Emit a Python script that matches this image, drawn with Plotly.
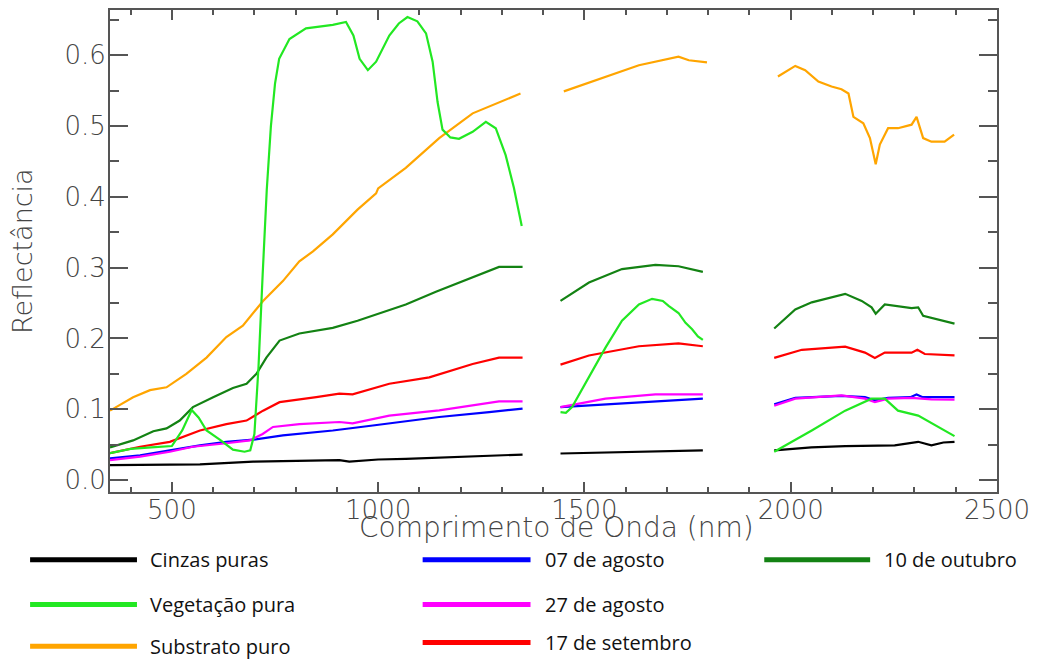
import plotly.graph_objects as go

# ---------------- data ----------------
cinzas_wl = [350, 450, 568, 697, 800, 890, 906, 930, 1000, 1067, 1150, 1250, 1350, None,
             1442, 1600, 1787, None,
             1960, 2050, 2132, 2252, 2309, 2341, 2370, 2397]
cinzas_r = [0.021, 0.021, 0.022, 0.026, 0.027, 0.028, 0.028, 0.026, 0.029, 0.030, 0.032, 0.034, 0.036, None,
            0.0375, 0.040, 0.042, None,
            0.042, 0.046, 0.048, 0.049, 0.054, 0.049, 0.053, 0.054]

veg_wl = [350, 400, 450, 500, 525, 548, 565, 584, 616, 648, 676, 690, 700, 710, 720, 730, 740, 750, 760,
          785, 825, 890, 922, 940, 955, 975, 995, 1027, 1050, 1071, 1095, 1116, 1132, 1144, 1156, 1175,
          1196, 1229, 1261, 1285, 1309, 1329, 1348, None,
          1442, 1455, 1470, 1519, 1551, 1591, 1632, 1664, 1690, 1704, 1728, 1745, 1761, 1775, 1787, None,
          1960, 2051, 2132, 2196, 2228, 2260, 2309, 2357, 2397]
veg_r = [0.038, 0.044, 0.046, 0.048, 0.070, 0.099, 0.088, 0.070, 0.057, 0.043, 0.040, 0.042, 0.065, 0.16,
         0.29, 0.41, 0.50, 0.56, 0.595,
         0.623, 0.638, 0.643, 0.647, 0.628, 0.595, 0.579, 0.591, 0.628, 0.645, 0.654, 0.648, 0.631, 0.591,
         0.534, 0.495, 0.484, 0.482, 0.492, 0.506, 0.497, 0.459, 0.413, 0.359, None,
         0.096, 0.095, 0.103, 0.155, 0.187, 0.225, 0.248, 0.256, 0.253, 0.246, 0.236, 0.222, 0.213, 0.203,
         0.198, None,
         0.040, 0.070, 0.098, 0.115, 0.115, 0.098, 0.091, 0.075, 0.062]

subs_wl = [350, 406, 447, 487, 535, 584, 632, 672, 721, 769, 809, 842, 890, 950, 995, 1000, 1067, 1148,
           1229, 1293, 1345, None,
           1450, 1551, 1632, 1728, 1753, 1797, None,
           1969, 2011, 2035, 2067, 2099, 2123, 2140, 2152, 2176, 2192, 2206, 2216, 2236, 2260, 2293, 2305,
           2321, 2341, 2373, 2396]
subs_r = [0.098, 0.117, 0.127, 0.131, 0.150, 0.173, 0.202, 0.218, 0.253, 0.281, 0.309, 0.323, 0.347,
          0.382, 0.405, 0.412, 0.441, 0.483, 0.518, 0.534, 0.546, None,
          0.549, 0.570, 0.586, 0.598, 0.593, 0.590, None,
          0.570, 0.585, 0.579, 0.563, 0.556, 0.552, 0.546, 0.513, 0.504, 0.483, 0.446, 0.474, 0.497,
          0.497, 0.502, 0.513, 0.483, 0.478, 0.478, 0.488]

ago07_wl = [350, 423, 495, 568, 632, 697, 769, 890, 987, 1148, 1269, 1350, None,
            1442, 1632, 1787, None,
            1960, 2011, 2123, 2180, 2204, 2236, 2290, 2305, 2320, 2397]
ago07_r = [0.0305, 0.035, 0.042, 0.049, 0.054, 0.057, 0.063, 0.070, 0.077, 0.089, 0.096, 0.101, None,
           0.103, 0.110, 0.115, None,
           0.107, 0.116, 0.119, 0.117, 0.1125, 0.116, 0.117, 0.121, 0.117, 0.117]

ago27_wl = [350, 423, 495, 551, 632, 689, 720, 745, 809, 890, 906, 938, 1027, 1148, 1229, 1293, 1350, None,
            1442, 1551, 1672, 1787, None,
            1960, 2011, 2123, 2180, 2204, 2236, 2293, 2341, 2397]
ago27_r = [0.028, 0.033, 0.040, 0.047, 0.052, 0.056, 0.065, 0.075, 0.079, 0.082, 0.082, 0.080, 0.091,
           0.0985, 0.105, 0.111, 0.111, None,
           0.103, 0.115, 0.121, 0.121, None,
           0.105, 0.115, 0.1195, 0.115, 0.110, 0.115, 0.116, 0.114, 0.1135]

set17_wl = [350, 423, 495, 535, 568, 632, 681, 721, 761, 850, 906, 938, 1027, 1124, 1229, 1293, 1350, None,
            1442, 1511, 1632, 1728, 1787, None,
            1960, 2027, 2132, 2180, 2204, 2228, 2293, 2307, 2325, 2397]
set17_r = [0.038, 0.047, 0.054, 0.063, 0.070, 0.079, 0.084, 0.098, 0.110, 0.117, 0.122, 0.121, 0.136,
           0.145, 0.164, 0.173, 0.173, None,
           0.163, 0.176, 0.189, 0.193, 0.189, None,
           0.1725, 0.184, 0.1885, 0.180, 0.1725, 0.180, 0.180, 0.184, 0.178, 0.176]

out10_wl = [350, 406, 455, 487, 519, 551, 600, 648, 681, 705, 729, 761, 809, 890, 950, 987, 1067, 1140,
            1229, 1293, 1350, None,
            1442, 1511, 1591, 1672, 1728, 1787, None,
            1960, 2011, 2051, 2132, 2172, 2196, 2206, 2228, 2293, 2309, 2321, 2357, 2397]
out10_r = [0.046, 0.056, 0.069, 0.073, 0.084, 0.103, 0.117, 0.130, 0.136, 0.150, 0.173, 0.197, 0.207,
           0.215, 0.225, 0.232, 0.248, 0.266, 0.287, 0.301, 0.301, None,
           0.253, 0.279, 0.298, 0.304, 0.302, 0.294, None,
           0.214, 0.241, 0.251, 0.263, 0.253, 0.244, 0.235, 0.248, 0.243, 0.244, 0.232, 0.227, 0.221]

series_names = ["Cinzas puras", "Vegetação pura", "Substrato puro",
                "07 de agosto", "27 de agosto", "17 de setembro", "10 de outubro"]
series_colors = ["#000000", "#22e822", "#ffa500", "#0000ff", "#ff00ff", "#ff0000", "#138213"]
series_wl = [cinzas_wl, veg_wl, subs_wl, ago07_wl, ago27_wl, set17_wl, out10_wl]
series_r = [cinzas_r, veg_r, subs_r, ago07_r, ago27_r, set17_r, out10_r]

x_ticks = [500, 1000, 1500, 2000, 2500]
y_ticks = [0.0, 0.1, 0.2, 0.3, 0.4, 0.5, 0.6]

# ---------------- figure ----------------
W, H = 1038, 659
ML, MR, MT, MB = 110, 40, 8, 167
PW, PH = W - ML - MR, H - MT - MB

fig = go.Figure()
draw_order = [0, 3, 4, 5, 6, 2, 1]
for i in draw_order:
    fig.add_trace(go.Scatter(x=series_wl[i], y=series_r[i], mode="lines",
                             name=series_names[i], connectgaps=False,
                             line=dict(color=series_colors[i], width=2.2),
                             showlegend=False))

axis_col = "#555555"
tick_font = dict(family="DejaVu Sans", size=26, color="#444444", weight=200)

fig.update_xaxes(range=[350, 2500], tickmode="array", tickvals=x_ticks,
                 ticktext=[str(v) for v in x_ticks],
                 ticks="inside", ticklen=10, tickwidth=2, tickcolor=axis_col,
                 minor=dict(dtick=100, tick0=0, ticks="inside", ticklen=5, tickwidth=2, tickcolor=axis_col),
                 showline=True, linecolor=axis_col, linewidth=2, mirror="ticks",
                 showgrid=False, zeroline=False, tickfont=tick_font, ticklabelstandoff=-6)
fig.update_yaxes(range=[-0.0169, 0.664], tickmode="array", tickvals=y_ticks,
                 ticktext=[f"{v:.1f}" for v in y_ticks],
                 ticks="inside", ticklen=18, tickwidth=2, tickcolor=axis_col,
                 minor=dict(dtick=0.05, tick0=0, ticks="inside", ticklen=9, tickwidth=2, tickcolor=axis_col),
                 showline=True, linecolor=axis_col, linewidth=2, mirror="ticks",
                 showgrid=False, zeroline=False, tickfont=tick_font, ticklabelstandoff=-3)

def px_to_paper(px, py):
    return (px - ML) / PW, (H - MB - py) / PH

annotations = []
shapes = []
# axis titles
tx, ty = px_to_paper(557, 528)
annotations.append(dict(text="Comprimento de Onda (nm)", x=tx, y=ty, xref="paper", yref="paper",
                        xanchor="center", yanchor="middle", showarrow=False,
                        font=dict(family="DejaVu Sans", size=28, color="#444444", weight=200)))
tx, ty = px_to_paper(22, 250)
annotations.append(dict(text="Reflectância", x=tx, y=ty, xref="paper", yref="paper", textangle=-90,
                        xanchor="center", yanchor="middle", showarrow=False,
                        font=dict(family="DejaVu Sans", size=27, color="#444444", weight=200)))

# legend (drawn manually below the plot)
legend_pos = {  # name -> (line x0, line x1, text x, y)
    "Cinzas puras": (30, 137, 148, 560),
    "Vegetação pura": (30, 137, 148, 605),
    "Substrato puro": (30, 137, 148, 647),
    "07 de agosto": (423, 531, 543, 560),
    "27 de agosto": (423, 531, 543, 605),
    "17 de setembro": (423, 531, 543, 643),
    "10 de outubro": (765, 871, 883, 560),
}
for name, col in zip(series_names, series_colors):
    x0, x1, xt, yy = legend_pos[name]
    ax0, ay = px_to_paper(x0, yy)
    ax1, _ = px_to_paper(x1, yy)
    axt, _ = px_to_paper(xt, yy)
    shapes.append(dict(type="line", xref="paper", yref="paper", x0=ax0, x1=ax1, y0=ay, y1=ay,
                       line=dict(color=col, width=5)))
    annotations.append(dict(text=name, x=axt, y=ay, xref="paper", yref="paper",
                            xanchor="left", yanchor="middle", showarrow=False,
                            font=dict(family="Open Sans", size=20, color="#111111")))

fig.update_layout(width=W, height=H, margin=dict(l=ML, r=MR, t=MT, b=MB),
                  paper_bgcolor="white", plot_bgcolor="white",
                  annotations=annotations, shapes=shapes, showlegend=False)

fig.write_html("out.html", config={"displayModeBar": False},
               post_script="document.body.style.margin='0px';document.body.style.overflow='hidden';")
